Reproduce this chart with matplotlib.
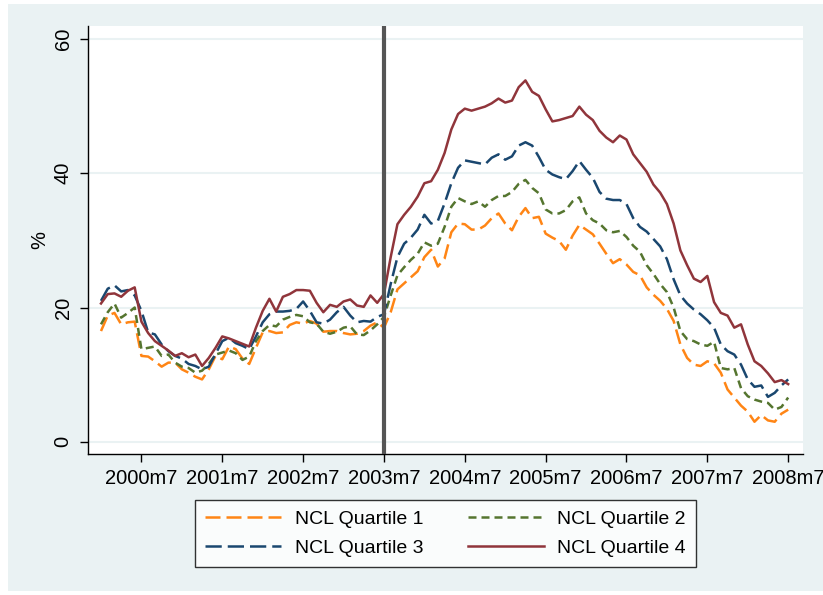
import numpy as np
import matplotlib
matplotlib.use("Agg")
import matplotlib.pyplot as plt
from matplotlib.patches import Rectangle

# monthly series, 2000m1 .. 2008m7
q1 = [16.5, 18.8, 19.2, 17.5, 17.8, 17.9, 12.8, 12.7, 12.0, 11.2, 11.8, 11.8, 10.8, 10.3, 9.7,
      9.3, 10.8, 12.8, 12.3, 14.2, 13.8, 12.4, 11.6, 14.0, 16.3, 16.5, 16.2, 16.3, 17.4, 17.8, 17.6,
      18.0, 17.6, 16.4, 16.5, 16.5, 16.2, 16.0, 16.1, 16.5, 17.3, 17.8, 17.0,
      19.3, 22.7, 23.6, 24.5, 25.4, 27.5, 28.6, 26.1, 27.3, 31.2, 32.5, 32.4, 31.6, 31.6, 32.2, 33.3, 34.0,
      32.5, 31.5, 33.5, 34.8, 33.3, 33.5, 31.0, 30.4, 29.9, 28.6, 30.7, 32.3, 31.6, 30.9, 29.5, 28.0,
      26.6, 27.2, 26.4, 25.3, 24.8, 23.0, 21.9, 21.0, 19.8, 18.0, 14.5, 12.5, 11.5, 11.3, 12.0,
      11.7, 10.3, 7.8, 6.6, 5.4, 4.5, 3.0, 4.0, 3.2, 3.0, 4.2, 4.8]
q2 = [17.5, 19.3, 20.6, 18.5, 19.2, 20.0, 13.8, 14.0, 14.2, 12.8, 13.0, 11.8, 11.2, 11.0, 10.3,
      10.6, 11.6, 13.0, 13.3, 13.6, 13.2, 12.2, 12.7, 15.0, 16.5, 17.4, 17.2, 18.2, 18.6, 18.9, 18.7,
      17.8, 17.6, 16.4, 16.1, 16.4, 17.0, 17.2, 16.0, 15.9, 16.6, 17.5, 18.6,
      21.8, 24.8, 26.0, 27.1, 28.0, 29.7, 29.2, 29.5, 32.0, 35.0, 36.3, 35.8, 35.4, 35.8, 35.0, 36.0, 36.6,
      36.6, 37.2, 38.4, 39.0, 37.8, 37.0, 34.6, 34.0, 34.0, 34.5, 35.8, 36.4, 34.0, 33.0, 32.5, 31.5,
      31.2, 31.4, 30.5, 29.2, 28.3, 26.3, 25.0, 23.5, 22.3, 20.0, 16.5, 15.3, 15.0, 14.5, 14.3,
      14.9, 11.0, 10.8, 11.0, 8.0, 6.8, 6.3, 6.0, 5.8, 4.8, 5.2, 6.6]
q3 = [21.0, 22.8, 23.3, 22.4, 22.6, 21.8, 19.5, 16.3, 16.0, 14.5, 13.5, 12.8, 12.4, 11.6, 11.3,
      10.8, 11.2, 13.1, 15.0, 15.5, 14.7, 14.3, 13.8, 15.7, 17.8, 19.0, 19.4, 19.4, 19.5, 19.8, 20.9,
      19.5, 17.8, 17.6, 18.2, 19.3, 20.1, 18.8, 17.8, 18.0, 17.9, 18.6, 19.0,
      23.5, 27.5, 29.5, 30.4, 31.6, 33.8, 32.5, 32.9, 35.5, 38.5, 40.8, 41.9, 41.7, 41.5, 41.3, 42.3, 42.8,
      42.0, 42.5, 44.1, 44.6, 44.1, 42.4, 40.5, 39.8, 39.4, 39.1, 40.3, 41.8, 40.5, 39.3, 37.2, 36.2,
      36.0, 36.0, 35.4, 33.3, 32.0, 31.3, 30.2, 29.1, 27.2, 24.2, 21.8, 20.6, 19.7, 19.0, 18.1,
      17.0, 14.5, 13.5, 13.0, 11.5, 9.3, 8.2, 8.4, 6.7, 7.3, 8.4, 9.3]
q4 = [20.6, 22.0, 22.1, 21.6, 22.5, 23.0, 17.9, 16.2, 15.0, 14.3, 13.6, 12.8, 13.2, 12.6, 13.0,
      11.3, 12.5, 14.0, 15.7, 15.4, 15.0, 14.6, 14.2, 17.0, 19.5, 21.3, 19.4, 21.6, 22.0, 22.6, 22.6,
      22.5, 20.7, 19.3, 20.4, 20.1, 20.9, 21.2, 20.3, 20.1, 21.8, 20.7, 22.0,
      27.5, 32.4, 33.8, 35.0, 36.5, 38.5, 38.8, 40.5, 43.0, 46.5, 48.8, 49.6, 49.3, 49.6, 49.9, 50.4, 51.1,
      50.5, 50.8, 52.8, 53.8, 52.1, 51.5, 49.5, 47.7, 47.9, 48.2, 48.5, 49.9, 48.7, 47.9, 46.3, 45.3,
      44.6, 45.6, 45.0, 42.8, 41.5, 40.2, 38.3, 37.1, 35.4, 32.5, 28.5, 26.3, 24.3, 23.8, 24.7,
      20.8, 19.2, 18.8, 17.0, 17.5, 14.5, 12.0, 11.3, 10.2, 8.9, 9.2, 8.6]
labels = ["NCL Quartile 1", "NCL Quartile 2", "NCL Quartile 3", "NCL Quartile 4"]
tick_labels = ["2000m7", "2001m7", "2002m7", "2003m7", "2004m7",
               "2005m7", "2006m7", "2007m7", "2008m7"]
event_label = "2003m7"

BG = "#EAF2F3"
colors = ["#FF8515", "#55752F", "#1A476F", "#90353B"]
styles = [(0, (6, 2.4)), (0, (3.2, 2.0)), (0, (6.5, 2.4)), "-"]

plt.rcParams["font.family"] = ["Liberation Sans", "DejaVu Sans"]

fig = plt.figure(figsize=(8.23, 5.95), dpi=100)
fig.patches.append(Rectangle((8 / 823, 4 / 595), 815 / 823, 587 / 595,
                             transform=fig.transFigure, facecolor=BG,
                             edgecolor="none", zorder=-10))
ax = fig.add_axes([88 / 823, 1 - 454 / 595, 715 / 823, 428 / 595])

# month index: 0 = 2000m1
months = np.arange(len(q1))
handles = []
for series, lab, c, ls in zip([q1, q2, q3, q4], labels, colors, styles):
    h, = ax.plot(months, series, color=c, linestyle=ls, linewidth=1.8, label=lab)
    handles.append(h)

tick_pos = [6 + 12 * i for i in range(len(tick_labels))]
ax.axvline(tick_pos[tick_labels.index(event_label)], color="#555555",
           linewidth=3, zorder=5)

ax.set_xlim(-1.93, 104.2)
ax.set_ylim(-1.8, 61.9)
ax.set_xticks(tick_pos)
ax.set_xticklabels(tick_labels)
ax.set_yticks([0, 20, 40, 60])
ax.set_yticklabels(["0", "20", "40", "60"], rotation=90, va="center")
ax.tick_params(axis="both", length=6, width=1, labelsize=14.5, color="black")
ax.tick_params(axis="x", pad=5)
ax.tick_params(axis="y", pad=5)
ax.set_ylabel("%", fontsize=14.5, labelpad=3)

ax.yaxis.grid(True, color=BG, linewidth=1.5)
ax.set_axisbelow(True)
for side in ["top", "right"]:
    ax.spines[side].set_visible(False)
for side in ["left", "bottom"]:
    ax.spines[side].set_linewidth(1)
    ax.spines[side].set_color("black")

# row-wise legend order: Q1 Q2 / Q3 Q4
order = [0, 2, 1, 3]
leg = ax.legend([handles[i] for i in order], [labels[i] for i in order],
                loc="upper center", bbox_to_anchor=(0.5, -0.108), ncol=2,
                fontsize=14, frameon=True, fancybox=False, edgecolor="black",
                handlelength=3.9, handletextpad=0.7, columnspacing=2.3,
                labelspacing=0.6, borderpad=0.5, borderaxespad=0)
leg.get_frame().set_linewidth(1)

fig.savefig("out.png", dpi=100, facecolor="white")
